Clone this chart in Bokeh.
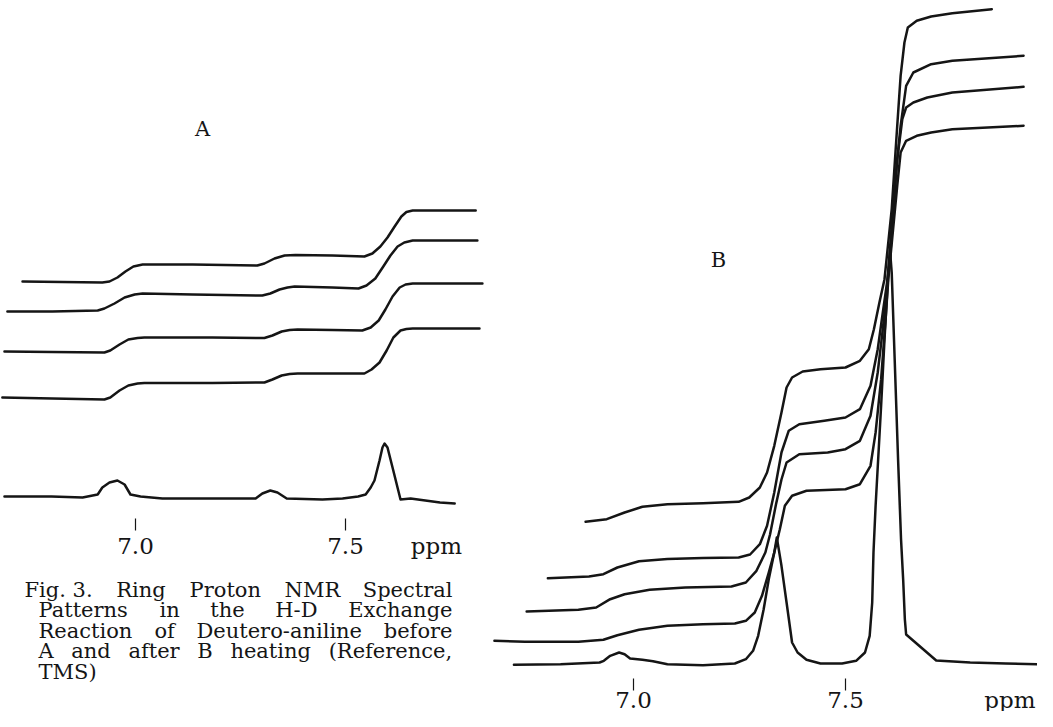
from bokeh.plotting import figure
from bokeh.models import Range1d, ColumnDataSource, Label
from bokeh.core.properties import value
from bokeh.embed import file_html
from bokeh.resources import INLINE

# ---------------- data (ppm, recorder height) ----------------
# Panel A : before heating
a_spec_ppm = [6.688, 6.800, 6.874, 6.910, 6.921, 6.938, 6.957, 6.974, 6.988, 7.012, 7.064, 7.150,
              7.286, 7.302, 7.321, 7.338, 7.360, 7.445, 7.493, 7.530, 7.548, 7.560, 7.569, 7.581,
              7.588, 7.593, 7.600, 7.612, 7.631, 7.655, 7.690, 7.725, 7.760]
a_spec_h = [223, 223, 222, 225, 232, 237, 239, 235, 225, 223, 221, 221,
            221, 226, 229, 227, 221, 220, 221, 223, 225, 232, 239, 259,
            272, 276, 272, 252, 220, 221, 219, 217, 216]

a_int1_ppm = [6.731, 6.826, 6.921, 6.938, 6.957, 6.976, 6.995, 7.017, 7.136, 7.290, 7.307, 7.331, 7.355,
              7.381, 7.469, 7.545, 7.564, 7.583, 7.600, 7.617, 7.633, 7.645, 7.660, 7.731, 7.810]
a_int1_h = [438, 437.5, 437, 438, 442, 448, 453, 455, 455, 454, 456, 461, 464,
            464.5, 464, 463, 466, 473, 482, 493, 503, 507.5, 509, 509, 509]
a_int2_ppm = [6.695, 6.802, 6.910, 6.926, 6.950, 6.974, 6.998, 7.017, 7.136, 7.302, 7.321, 7.343, 7.362,
              7.379, 7.469, 7.531, 7.550, 7.571, 7.590, 7.607, 7.624, 7.640, 7.660, 7.731, 7.814]
a_int2_h = [408, 408, 409, 411, 416, 422, 425, 426, 425, 424, 426, 430, 432,
            433, 432, 431, 434, 441, 453, 464, 473, 477, 479, 479, 479]
a_int3_ppm = [6.688, 6.802, 6.926, 6.940, 6.962, 6.983, 7.005, 7.021, 7.183, 7.307, 7.326, 7.348, 7.367,
              7.386, 7.469, 7.540, 7.560, 7.579, 7.595, 7.612, 7.629, 7.643, 7.660, 7.755, 7.826]
a_int3_h = [368, 367.5, 367, 369, 375, 380, 381.5, 382, 382, 381.5, 384, 388, 389.5,
            390, 389.5, 389, 392, 399, 410, 423, 432, 435, 436, 436, 436]
a_int4_ppm = [6.683, 6.802, 6.926, 6.940, 6.962, 6.983, 7.005, 7.021, 7.183, 7.307, 7.326, 7.348, 7.367,
              7.386, 7.469, 7.545, 7.562, 7.581, 7.598, 7.614, 7.631, 7.645, 7.660, 7.743, 7.819]
a_int4_h = [322, 321, 320, 322, 329, 334, 336, 336.5, 336.5, 337, 340, 344, 345.5,
            346, 346, 346, 350, 357, 369, 382, 389, 390.5, 391, 391, 391]

# Panel B : after heating
b_spec_ppm = [6.718, 6.828, 6.920, 6.930, 6.945, 6.966, 6.979, 6.992, 7.021, 7.046, 7.080, 7.164,
              7.239, 7.265, 7.282, 7.294, 7.307, 7.319, 7.332, 7.338, 7.349, 7.361, 7.374, 7.387,
              7.408, 7.441, 7.492, 7.525, 7.546, 7.557, 7.563, 7.566, 7.571, 7.584, 7.592, 7.601,
              7.605, 7.609, 7.616, 7.624, 7.631, 7.636, 7.640, 7.643, 7.714, 7.794, 7.878, 7.971]
b_spec_h = [54.7, 55.3, 57, 58.7, 63.7, 67, 65.3, 61, 59.7, 58.3, 55.3, 54.3,
            56, 60.3, 68.7, 83.7, 110.3, 140.3, 167, 182, 153.7, 117, 77, 67,
            59.7, 56, 56, 58.7, 67, 83.7, 117, 167, 213.7, 313.7, 380, 447,
            469, 447, 360, 260, 180, 140, 100, 85, 59, 57, 56, 55]

b_int1_ppm = [6.887, 6.937, 6.979, 7.021, 7.080, 7.164, 7.248, 7.273, 7.298, 7.315, 7.332, 7.349, 7.361,
              7.374, 7.399, 7.441, 7.500, 7.534, 7.555, 7.567, 7.580, 7.592, 7.609, 7.622, 7.630,
              7.639, 7.647, 7.668, 7.702, 7.752, 7.845]
b_int1_h = [197.7, 200.3, 207, 212.7, 215.3, 216.3, 217.7, 222, 232, 247, 273.7, 307, 332,
            342, 348, 350.3, 352, 358.7, 370.3, 390.3, 417, 440.3, 510.3, 593.7, 643.7,
            677, 692, 698.7, 703, 706.3, 710.3]
b_int2_ppm = [6.798, 6.895, 6.929, 6.962, 7.013, 7.080, 7.164, 7.248, 7.275, 7.298, 7.315, 7.332, 7.349,
              7.366, 7.391, 7.450, 7.500, 7.534, 7.559, 7.576, 7.588, 7.597, 7.605, 7.613, 7.622,
              7.630, 7.643, 7.660, 7.702, 7.752, 7.920]
b_int2_h = [141.3, 143, 145.3, 152, 158.3, 160.5, 161.5, 162, 165, 175.3, 193.7, 227, 267,
            288.7, 295.3, 298.7, 302, 310.3, 333.7, 370.3, 407, 433.7, 460.3, 510.3, 560.3,
            593.7, 633.7, 647, 655.3, 658.7, 663.7]
b_int3_ppm = [6.748, 6.870, 6.912, 6.945, 6.979, 7.038, 7.122, 7.231, 7.265, 7.290, 7.311, 7.322, 7.336,
              7.349, 7.361, 7.391, 7.458, 7.500, 7.534, 7.559, 7.576, 7.588, 7.597, 7.609, 7.622,
              7.634, 7.643, 7.660, 7.693, 7.752, 7.920]
b_int3_h = [108, 109.7, 112, 120.3, 125.3, 129.7, 132, 133, 137, 148.7, 167, 185, 215,
            240, 257, 265.3, 267, 270.3, 278.7, 303.7, 347, 390.3, 427, 493.7, 560,
            600.3, 612, 617, 622, 627, 632.7]
b_int4_ppm = [6.672, 6.744, 6.870, 6.929, 6.962, 7.013, 7.080, 7.164, 7.239, 7.265, 7.286, 7.303, 7.319,
              7.332, 7.345, 7.357, 7.374, 7.408, 7.500, 7.534, 7.559, 7.571, 7.584, 7.594, 7.601,
              7.613, 7.622, 7.630, 7.643, 7.668, 7.702, 7.752, 7.920]
b_int4_h = [78.7, 77.7, 77.7, 79.7, 84.3, 89.7, 93.7, 95.3, 96, 98.7, 107, 123.7, 147,
            167, 190, 213.7, 223.7, 228.7, 230.3, 235.3, 253.7, 287, 340.3, 397, 440.3,
            493.7, 533.7, 567, 578.7, 583.7, 587, 590.3, 593.7]

tick_values = [7.0, 7.5]
tick_labels = ["7.0", "7.5"]
unit_label = "ppm"
panel_titles = ["A", "B"]
caption_lines = [
    ["Fig. 3.", "Ring", "Proton", "NMR", "Spectral"],
    ["Patterns", "in", "the", "H-D", "Exchange"],
    ["Reaction", "of", "Deutero-aniline", "before"],
    ["A", "and", "after", "B", "heating", "(Reference,"],
    ["TMS)"],
]

# ---------------- layout (reference pixel geometry) ----------------
W, H = 1037, 711
OFF = 8
REF_H = 727
A_X0, A_SCALE = 143, 420.0
B_X0, B_SCALE = 641, 424.0


def a_ppm(px):
    return 7.0 + (px - A_X0) / A_SCALE


def b_ppm(px):
    return 7.0 + (px - B_X0) / B_SCALE


def hgt(py):
    return REF_H - py


INK = "#151515"
SERIF = "DejaVu Serif"

p = figure(width=W, height=H, output_backend="svg", toolbar_location=None,
           x_range=Range1d(a_ppm(OFF), a_ppm(OFF + W)),
           y_range=Range1d(hgt(OFF + H), hgt(OFF)),
           x_axis_location=None, y_axis_location=None, min_border=0)
p.extra_x_ranges = {"B": Range1d(b_ppm(OFF), b_ppm(OFF + W))}
p.grid.visible = False
p.outline_line_color = None
p.background_fill_color = "white"
p.border_fill_color = "white"

line_kw = dict(line_color=INK, line_width=2.5, line_join="round", line_cap="round")

for xs, ys in [(a_spec_ppm, a_spec_h), (a_int1_ppm, a_int1_h), (a_int2_ppm, a_int2_h),
               (a_int3_ppm, a_int3_h), (a_int4_ppm, a_int4_h)]:
    p.line(xs, ys, **line_kw)

for xs, ys in [(b_spec_ppm, b_spec_h), (b_int1_ppm, b_int1_h), (b_int2_ppm, b_int2_h),
               (b_int3_ppm, b_int3_h), (b_int4_ppm, b_int4_h)]:
    p.line(xs, ys, x_range_name="B", **line_kw)

# hand-drawn style ppm axes (tick marks + labels), one per panel
LAB_SIZE = "23px"
for rng, tick_top, tick_bot, lab_y, unit_x, unit_align in [
        ("default", 526, 538, 553, a_ppm(444), "center"),
        ("B", 686, 698, 707, b_ppm(1043), "right")]:
    src = ColumnDataSource(dict(x=tick_values, y0=[hgt(tick_top)] * 2, y1=[hgt(tick_bot)] * 2,
                                yl=[hgt(lab_y)] * 2, t=tick_labels))
    p.segment(x0="x", y0="y0", x1="x", y1="y1", source=src, x_range_name=rng,
              line_color=INK, line_width=1.2)
    p.text(x="x", y="yl", text="t", source=src, x_range_name=rng,
           text_font=value(SERIF), text_font_size=LAB_SIZE, text_color=INK,
           text_align="center", text_baseline="middle")
    p.add_layout(Label(x=unit_x, y=hgt(lab_y), text=unit_label, x_range_name=rng,
                       text_font=SERIF, text_font_size=LAB_SIZE, text_color=INK,
                       text_align=unit_align, text_baseline="middle"))

# panel letters
p.add_layout(Label(x=a_ppm(210), y=hgt(136), text=panel_titles[0], text_font=SERIF,
                   text_font_size="21px", text_color=INK, text_align="center", text_baseline="middle"))
p.add_layout(Label(x=b_ppm(726), y=hgt(267), text=panel_titles[1], x_range_name="B", text_font=SERIF,
                   text_font_size="21px", text_color=INK, text_align="center", text_baseline="middle"))

# justified caption
CW = {' ': 0.318, '.': 0.318, ',': 0.318, '-': 0.338, '(': 0.390, ')': 0.390, '3': 0.636,
      'a': 0.596, 'b': 0.640, 'c': 0.560, 'd': 0.640, 'e': 0.592, 'f': 0.370, 'g': 0.640,
      'h': 0.644, 'i': 0.320, 'l': 0.320, 'm': 0.948, 'n': 0.644, 'o': 0.602, 'p': 0.640,
      'r': 0.478, 's': 0.513, 't': 0.402, 'u': 0.644, 'x': 0.564, 'A': 0.722, 'B': 0.735,
      'D': 0.802, 'E': 0.730, 'F': 0.694, 'H': 0.872, 'M': 0.995, 'N': 0.837, 'P': 0.673,
      'R': 0.770, 'S': 0.685, 'T': 0.703}
CAP_SIZE = 21


def tw(s):
    return sum(CW.get(c, 0.6) for c in s) * CAP_SIZE


cx, cy, ct = [], [], []
line_y = [597, 617.5, 638, 658.5, 679]
for i, words in enumerate(caption_lines):
    left = 32 if i == 0 else 46
    right = 460
    if len(words) > 1:
        gap = (right - left - sum(tw(w) for w in words)) / (len(words) - 1)
    else:
        gap = 0
    x = left
    for w in words:
        cx.append(a_ppm(x))
        cy.append(hgt(line_y[i]))
        ct.append(w)
        x += tw(w) + gap
p.text(x=cx, y=cy, text=ct, text_font=value(SERIF), text_font_size=f"{CAP_SIZE}px",
       text_color=INK, text_align="left", text_baseline="middle")

open("out.html", "w").write(file_html(p, INLINE))
